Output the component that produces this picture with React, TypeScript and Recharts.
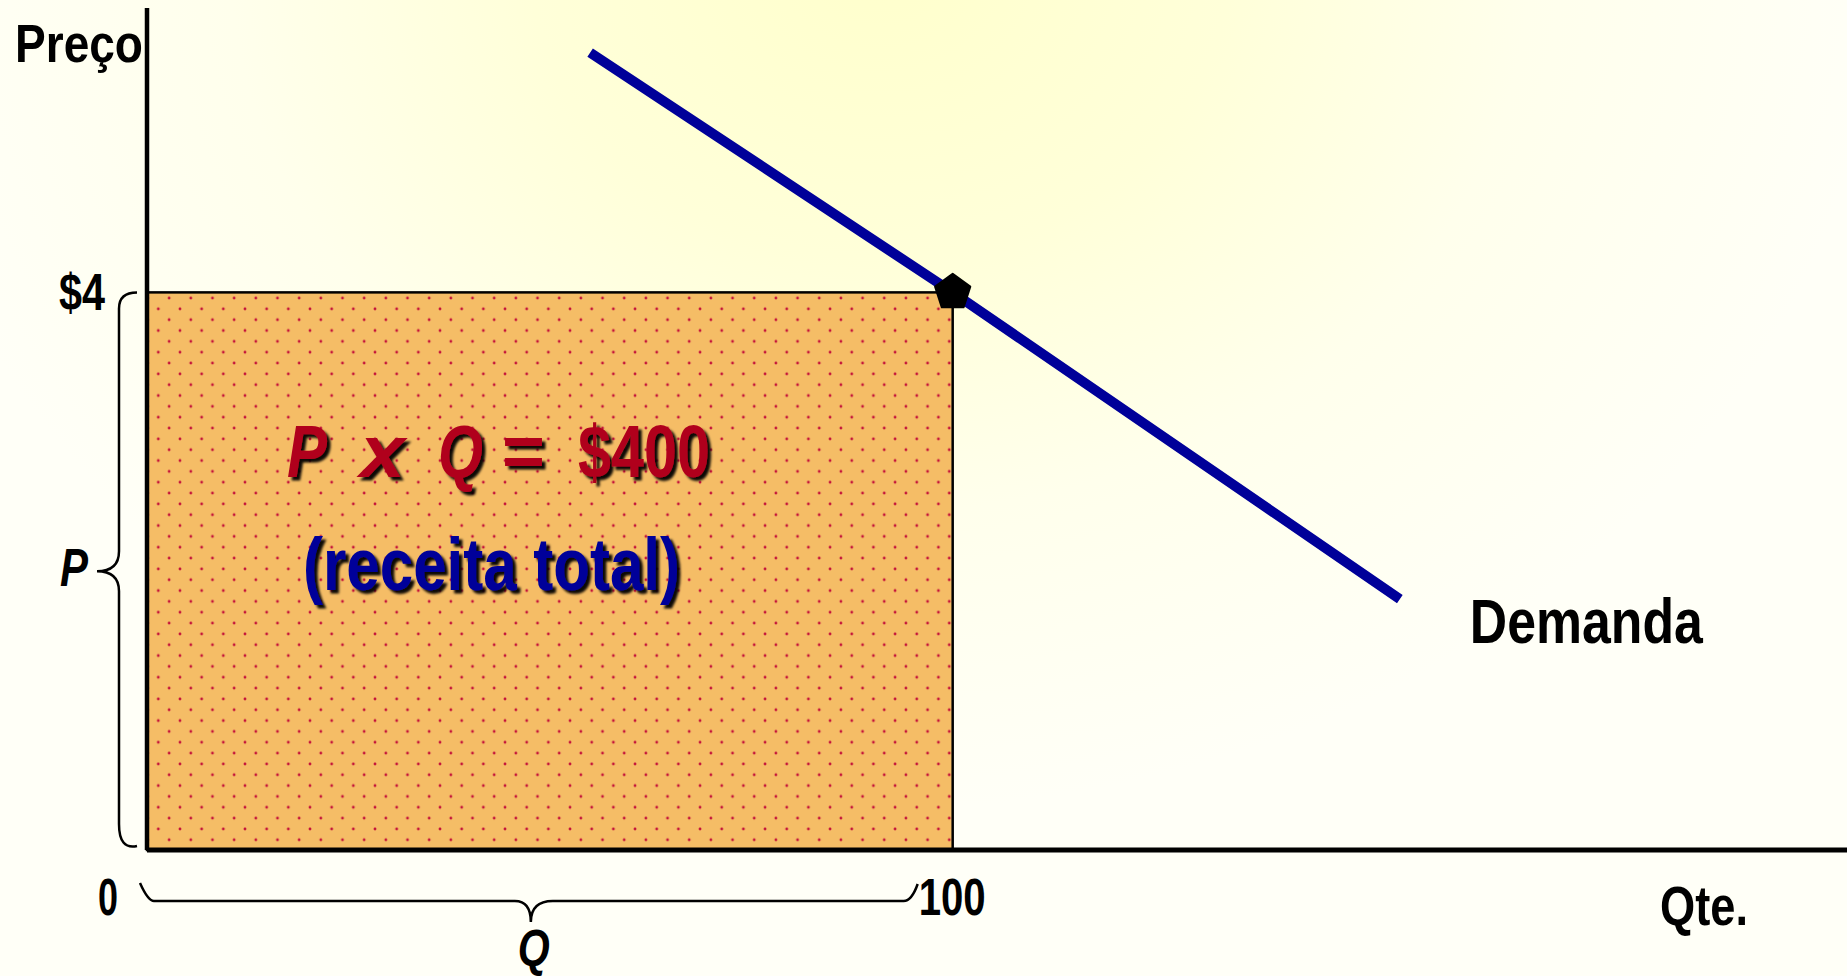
import { ComposedChart, Line, Scatter, XAxis, YAxis, ReferenceArea, ReferenceDot, Label } from 'recharts'

// demand curve (quantity, price)
const demandQty = [55, 100, 155.5]
const demandPrice = [5.72, 4, 1.8]
const demand = demandQty.map((q, i) => ({ q, p: demandPrice[i] }))

// equilibrium point: P = $4, Q = 100
const eqQty = [100]
const eqPrice = [4]
const eq = eqQty.map((q, i) => ({ q, p: eqPrice[i] }))

const xTicks = [0, 100]
const yTicks = [4]
const xTickLabels: Record<number, string> = { 0: '0', 100: '100' }
const yTickLabels: Record<number, string> = { 4: '$4' }

// narrow bold look: Arial-metric font squeezed with textLength
const FONT = "'Liberation Sans', Arial, sans-serif"
const NAVY = '#000099'
const CRIMSON = '#B0001E'

function NarrowText({ x, y, w, size, italic, fill = '#000', children }: any) {
  return (
    <text
      x={x}
      y={y}
      textLength={w}
      lengthAdjust="spacingAndGlyphs"
      fontFamily={FONT}
      fontWeight="bold"
      fontStyle={italic ? 'italic' : 'normal'}
      fontSize={size}
      fill={fill}
    >
      {children}
    </text>
  )
}

function Pentagon(props: any) {
  const { cx, cy } = props
  const r = 18.5
  const pts = [0, 1, 2, 3, 4]
    .map((k) => {
      const a = (-90 + k * 72) * Math.PI / 180
      return `${cx + r * Math.cos(a)},${cy + r * Math.sin(a)}`
    })
    .join(' ')
  return <polygon points={pts} fill="#000" stroke="#000" strokeWidth={2} strokeLinejoin="round" />
}

function RevenueArea(props: any) {
  const { x, y, width, height } = props
  const x1 = x + width
  const y2 = y + height
  const mid = y + height / 2
  // left brace (P)
  const sx = x - 28
  const ex = x - 10
  const tx = x - 50
  const leftBrace = `M${ex},${y} Q${sx},${y} ${sx},${y + 16} L${sx},${mid - 20} Q${sx},${mid} ${tx},${mid} Q${sx},${mid} ${sx},${mid + 20} L${sx},${y2 - 26} Q${sx},${y2} ${ex},${y2 - 4}`
  // bottom brace (Q)
  const by = y2 + 51
  const bl = x - 7
  const br = x1 - 35
  const bm = (bl + br) / 2 + 2
  const bottomBrace = `M${bl},${y2 + 33} Q${bl + 8},${by} ${bl + 14},${by} L${bm - 16},${by} Q${bm},${by} ${bm},${y2 + 72} Q${bm},${by} ${bm + 22},${by} L${br - 14},${by} Q${br - 6},${by} ${br},${y2 + 34}`
  return (
    <g>
      <rect x={x} y={y} width={width} height={height} fill="url(#dots)" stroke="#000" strokeWidth={2.5} />
      <path d={leftBrace} fill="none" stroke="#000" strokeWidth={2.5} />
      <path d={bottomBrace} fill="none" stroke="#000" strokeWidth={2.5} />
      <NarrowText x={tx - 37} y={mid + 15} w={28} size={54} italic>P</NarrowText>
      <NarrowText x={bm - 13} y={y2 + 116} w={32} size={52} italic>Q</NarrowText>
      <g filter="url(#shadow)">
        <NarrowText x={x + 140} y={y + 185} w={40} size={75} italic fill={CRIMSON}>P</NarrowText>
        <NarrowText x={x + 213} y={y + 185} w={45} size={75} italic fill={CRIMSON}>x</NarrowText>
        <NarrowText x={x + 291} y={y + 185} w={45} size={75} italic fill={CRIMSON}>Q</NarrowText>
        <NarrowText x={x + 355} y={y + 185} w={43} size={75} fill={CRIMSON}>=</NarrowText>
        <NarrowText x={x + 431} y={y + 185} w={132} size={75} fill={CRIMSON}>$400</NarrowText>
        <NarrowText x={x + 156} y={y + 298} w={377} size={75} fill={NAVY}>(receita total)</NarrowText>
      </g>
    </g>
  )
}

function YTick(props: any) {
  const { x, y, payload } = props
  return <NarrowText x={x - 88} y={y + 18} w={46} size={52}>{yTickLabels[payload.value]}</NarrowText>
}

function XTick(props: any) {
  const { x, y, payload } = props
  if (payload.value === 0) {
    return <NarrowText x={x - 49} y={y + 65} w={20} size={52}>{xTickLabels[payload.value]}</NarrowText>
  }
  return <NarrowText x={x - 34} y={y + 65} w={67} size={52}>{xTickLabels[payload.value]}</NarrowText>
}

export default function App() {
  return (
    <div
      style={{
        width: 1847,
        height: 976,
        background: 'radial-gradient(ellipse 1000px 850px at 880px -40px, #FFFFCC 0%, #FFFFD9 35%, #FFFFEC 65%, #FFFFF7 100%)',
      }}
    >
      <style>{'body{margin:0}'}</style>
      <ComposedChart width={1847} height={976} margin={{ top: 8, right: 0, bottom: 0, left: 0 }}>
        <defs>
          <pattern id="dots" x={158.3} y={5.5} width={21.67} height={21.67} patternUnits="userSpaceOnUse">
            <rect width={21.67} height={21.67} fill="#F5BD66" />
            <circle cx={0} cy={0} r={1.4} fill="#C4123A" />
            <circle cx={21.67} cy={0} r={1.4} fill="#C4123A" />
            <circle cx={0} cy={21.67} r={1.4} fill="#C4123A" />
            <circle cx={21.67} cy={21.67} r={1.4} fill="#C4123A" />
            <circle cx={10.83} cy={10.83} r={1.4} fill="#C4123A" />
          </pattern>
          <filter id="shadow" x="-10%" y="-10%" width="130%" height="140%">
            <feDropShadow dx={3.5} dy={3.5} stdDeviation={1.2} floodColor="#000" floodOpacity={0.95} />
          </filter>
        </defs>
        <XAxis
          type="number"
          dataKey="q"
          domain={[0, 211]}
          ticks={xTicks}
          tick={<XTick />}
          tickLine={false}
          tickSize={0}
          tickMargin={0}
          axisLine={{ stroke: '#000', strokeWidth: 5 }}
          height={126}
          allowDataOverflow
        >
          <Label
            content={(p: any) => (
              <NarrowText x={p.viewBox.x + p.viewBox.width - 187} y={p.viewBox.y + 75} w={88} size={56}>
                Qte.
              </NarrowText>
            )}
          />
        </XAxis>
        <YAxis
          type="number"
          domain={[0, 6.04]}
          ticks={yTicks}
          tick={<YTick />}
          tickLine={false}
          tickSize={0}
          tickMargin={0}
          axisLine={{ stroke: '#000', strokeWidth: 4.5 }}
          width={147}
          allowDataOverflow
        >
          <Label
            content={(p: any) => (
              <NarrowText x={15} y={p.viewBox.y + 54} w={128} size={54}>
                Preço
              </NarrowText>
            )}
          />
        </YAxis>
        <ReferenceArea x1={0} x2={eqQty[0]} y1={0} y2={eqPrice[0]} shape={<RevenueArea />} ifOverflow="visible" />
        <Line
          data={demand}
          dataKey="p"
          stroke={NAVY}
          strokeWidth={10}
          dot={false}
          activeDot={false}
          isAnimationActive={false}
        />
        <Scatter data={eq} dataKey="p" shape={<Pentagon />} isAnimationActive={false} />
        <ReferenceDot
          x={demandQty[demandQty.length - 1]}
          y={demandPrice[demandPrice.length - 1]}
          r={0}
          fill="none"
          stroke="none"
          ifOverflow="visible"
          label={(p: any) => {
            const vb = p.viewBox || {}
            return (
              <NarrowText x={vb.x + 70} y={vb.y + 44} w={233} size={63}>
                Demanda
              </NarrowText>
            )
          }}
        />
      </ComposedChart>
    </div>
  )
}
